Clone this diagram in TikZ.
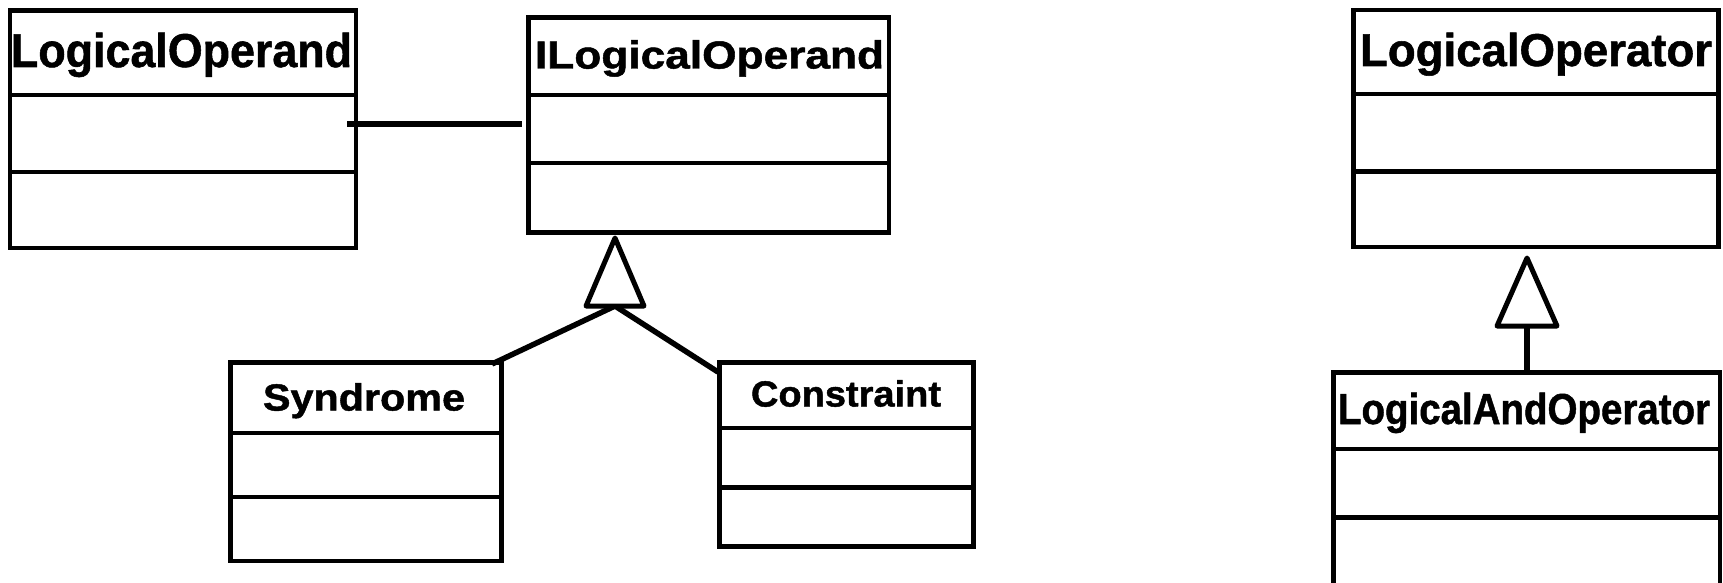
\documentclass[tikz,border=0pt]{standalone}
\usepackage{fontspec}
\setmainfont{Liberation Sans}
\newfontfamily\heavyfont{Liberation Sans Bold}[FakeBold=1.2]
\usepackage{graphicx}
\usetikzlibrary{calc}

% class name: font size, target width, text
\newcommand{\classtitle}[3]{\fontsize{#1}{#1}\selectfont\resizebox{#2}{\height}{#3}}

\tikzset{
  classbox/.style={draw, line width=4.5pt, inner sep=0pt, outer sep=0pt, anchor=north west},
  divider/.style={line width=4.5pt},
  title/.style={anchor=base, inner sep=0pt, outer sep=0pt, font=\heavyfont},
  link/.style={line width=5.5pt},
  tri/.style={line width=5pt, line join=round, fill=white},
}

\begin{document}
\begin{tikzpicture}[x=1pt, y=-1pt]
\useasboundingbox (0,0) rectangle (1723,583);
\clip (0,0) rectangle (1723,583);

% ---- class boxes ----
\node[classbox, minimum width=346pt,   minimum height=237.5pt] (lo)  at (10,10.5)    {};
\node[classbox, minimum width=360.5pt, minimum height=214.8pt] (ilo) at (528.5,17.5) {};
\node[classbox, minimum width=271pt,   minimum height=198.5pt] (sy)  at (230.5,362.5){};
\node[classbox, minimum width=254pt,   minimum height=184pt]   (co)  at (719.5,362.5){};
\node[classbox, minimum width=365pt,   minimum height=237pt]   (lop) at (1353.3,10)  {};
\node[classbox, minimum width=386.7pt, minimum height=240pt]   (lao) at (1333.3,372.7){};

% ---- compartment dividers ----
\draw[divider] (lo.west |- 0,95)    -- (lo.east |- 0,95);
\draw[divider] (lo.west |- 0,172)   -- (lo.east |- 0,172);
\draw[divider] (ilo.west |- 0,95)   -- (ilo.east |- 0,95);
\draw[divider] (ilo.west |- 0,163)  -- (ilo.east |- 0,163);
\draw[divider] (sy.west |- 0,433)   -- (sy.east |- 0,433);
\draw[divider] (sy.west |- 0,497)   -- (sy.east |- 0,497);
\draw[divider] (co.west |- 0,428)   -- (co.east |- 0,428);
\draw[divider] (co.west |- 0,487.5) -- (co.east |- 0,487.5);
\draw[divider] (lop.west |- 0,94)   -- (lop.east |- 0,94);
\draw[divider] (lop.west |- 0,171.7)-- (lop.east |- 0,171.7);
\draw[divider] (lao.west |- 0,449)  -- (lao.east |- 0,449);
\draw[divider] (lao.west |- 0,517.3)-- (lao.east |- 0,517.3);

% ---- class names ----
\node[title] (lo-t)  at (181.5,67)   {\classtitle{47.5pt}{341pt}{LogicalOperand}};
\node[title] (ilo-t) at (709.5,68.5) {\classtitle{39pt}{349pt}{ILogicalOperand}};
\node[title] (sy-t)  at (364,410.5)  {\classtitle{37.7pt}{202pt}{Syndrome}};
\node[title] (co-t)  at (846,406.5)  {\classtitle{36.3pt}{190pt}{Constraint}};
\node[title] (lop-t) at (1536,66)    {\classtitle{46pt}{352pt}{LogicalOperator}};
\node[title] (lao-t) at (1524,424)   {\classtitle{43.3pt}{372pt}{LogicalAndOperator}};

% ---- association ----
\draw[link] ($(lo.east |- 0,124)+(-9,0)$) -- ($(ilo.west |- 0,124)+(-6.5,0)$);

% ---- generalization: Syndrome, Constraint -> ILogicalOperand ----
\coordinate (g1tip)  at (615,238);
\coordinate (g1base) at (615,306);
\draw[link] (g1base) -- ($(sy.north east)+(-9.5,1.5)$);
\draw[link] (g1base) -- ($(co.north west)+(-1.5,9.5)$);
\draw[tri] (g1tip) -- (586,306) -- (644,306) -- cycle;

% ---- generalization: LogicalAndOperator -> LogicalOperator ----
\coordinate (g2tip)  at (1527,258);
\coordinate (g2base) at (1527,326);
\draw[link] (g2base) -- (g2base |- lao.north);
\draw[tri] (g2tip) -- (1497,326) -- (1557,326) -- cycle;
\end{tikzpicture}
\end{document}
